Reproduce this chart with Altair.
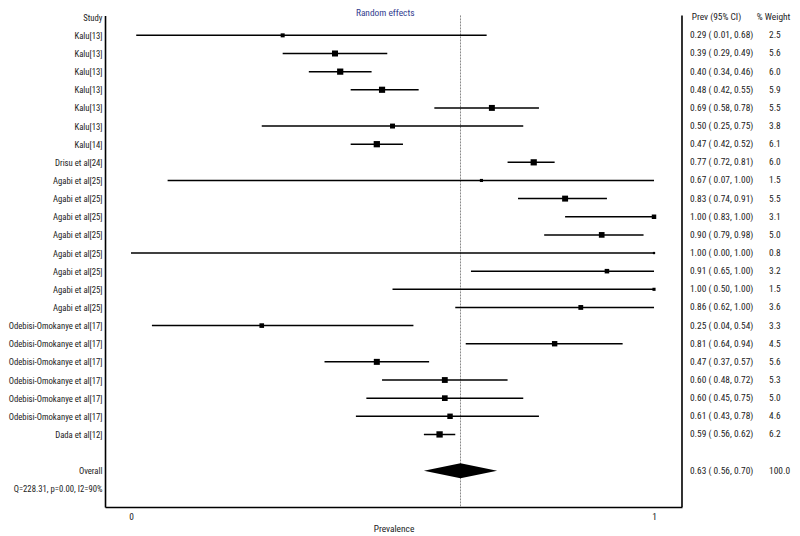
import json
import altair as alt
import pandas as pd

# ---------------- data ----------------
studies = (["Kalu[13]"] * 6 + ["Kalu[14]", "Drisu et al[24]"] + ["Agabi et al[25]"] * 8
           + ["Odebisi-Omokanye et al[17]"] * 6 + ["Dada et al[12]"])
prev = [0.29, 0.39, 0.40, 0.48, 0.69, 0.50, 0.47, 0.77, 0.67, 0.83, 1.00, 0.90,
        1.00, 0.91, 1.00, 0.86, 0.25, 0.81, 0.47, 0.60, 0.60, 0.61, 0.59]
lower = [0.01, 0.29, 0.34, 0.42, 0.58, 0.25, 0.42, 0.72, 0.07, 0.74, 0.83, 0.79,
         0.00, 0.65, 0.50, 0.62, 0.04, 0.64, 0.37, 0.48, 0.45, 0.43, 0.56]
upper = [0.68, 0.49, 0.46, 0.55, 0.78, 0.75, 0.52, 0.81, 1.00, 0.91, 1.00, 0.98,
         1.00, 1.00, 1.00, 1.00, 0.54, 0.94, 0.57, 0.72, 0.75, 0.78, 0.62]
weight = [2.5, 5.6, 6.0, 5.9, 5.5, 3.8, 6.1, 6.0, 1.5, 5.5, 3.1, 5.0,
          0.8, 3.2, 1.5, 3.6, 3.3, 4.5, 5.6, 5.3, 5.0, 4.6, 6.2]
overall_prev, overall_lower, overall_upper, overall_weight = 0.63, 0.56, 0.70, 100.0
het_text = "Q=228.31, p=0.00, I2=90%"
x_ticks = [0, 1]
headers = ["Study", "Prev (95% CI)", "% Weight"]
chart_title = "Random effects"
x_title = "Prevalence"

# ---------------- layout constants ----------------
FONT = "Roboto Condensed, Archivo Narrow, Liberation Sans, sans-serif"
TXT = "#222222"
ROW_PX = 18.14
Y_MIN, Y_MAX = -0.1, 27.0
X_MIN, X_MAX = -0.0497, 1.0535
PLOT_W = 577
PLOT_H = (Y_MAX - Y_MIN) * ROW_PX

n = len(studies)
rows = list(range(1, n + 1))
overall_row = n + 2
het_row = n + 3

label_map = [""] * (het_row + 1)
label_map[0] = headers[0]
for r, s in zip(rows, studies):
    label_map[r] = s
label_map[overall_row] = "Overall"
label_map[het_row] = het_text
axis_rows = [0] + rows + [overall_row, het_row]

df = pd.DataFrame({"row": rows, "study": studies, "prev": prev,
                   "lower": lower, "upper": upper, "weight": weight})

ci_text = [f"{p:.2f} ( {l:.2f}, {u:.2f})" for p, l, u in zip(prev, lower, upper)] \
    + [f"{overall_prev:.2f} ( {overall_lower:.2f}, {overall_upper:.2f})"]
w_text = [f"{w:.1f}" for w in weight] + [f"{overall_weight:.1f}"]
text_df = pd.DataFrame({"row": rows + [overall_row], "ci": ci_text, "w": w_text})

half = 0.41
diamond_df = pd.DataFrame({
    "x": [overall_lower, overall_prev, overall_upper],
    "y": [overall_row, overall_row - half, overall_row],
    "y2": [overall_row, overall_row + half, overall_row],
})

yscale = alt.Scale(domain=[Y_MIN, Y_MAX], reverse=True, nice=False, zero=False)
xscale = alt.Scale(domain=[X_MIN, X_MAX], nice=False, zero=False)

y_axis = alt.Axis(values=axis_rows, tickCount=100,
                  labelExpr=f"{json.dumps(label_map)}[datum.value]",
                  ticks=False, grid=False, labelPadding=3, labelFont=FONT, labelFontSize=8.7,
                  labelOverlap=False, labelBound=False,
                  labelColor=TXT, domainColor="black", domainWidth=1.6, title=None)
x_axis = alt.Axis(values=x_ticks, format="d", ticks=False, grid=False, labelPadding=6,
                  labelFont=FONT, labelFontSize=9.4, labelColor=TXT, domainColor="black",
                  domainWidth=1.6, title=x_title, titleFont=FONT, titleFontSize=9.4,
                  titleFontWeight="normal", titleColor=TXT, titlePadding=3)

base = alt.Chart(df)

ci = base.mark_rule(color="black", strokeWidth=1.5).encode(
    x=alt.X("lower:Q", scale=xscale, axis=x_axis),
    x2="upper:Q",
    y=alt.Y("row:Q", scale=yscale, axis=y_axis),
)

squares = base.mark_square(color="black", opacity=1, filled=True).encode(
    x="prev:Q",
    y="row:Q",
    size=alt.Size("weight:Q", scale=alt.Scale(domain=[0, 6.2], range=[0, 40]), legend=None),
)

ref = alt.Chart(pd.DataFrame({"v": [overall_prev]})).mark_rule(
    color="#8a8a8a", strokeWidth=1, strokeDash=[2, 1]).encode(x="v:Q")

diamond = alt.Chart(diamond_df).mark_area(color="black", orient="vertical", opacity=1).encode(
    x="x:Q", y="y:Q", y2="y2:Q")

txt_style = dict(align="left", baseline="middle", font=FONT, fontSize=9.4, color=TXT)

ci_txt = alt.Chart(text_df).mark_text(**txt_style).encode(
    x=alt.datum(1.0688), y="row:Q", text="ci:N")

w_txt = alt.Chart(text_df).mark_text(**txt_style).encode(
    x=alt.datum(1.2199), y="row:Q", text="w:N")

hdr_df = pd.DataFrame({"h": headers[1:], "hx": [1.0721, 1.1965], "row": [0, 0]})
hdr_txt = alt.Chart(hdr_df).mark_text(**txt_style).encode(
    x="hx:Q", y="row:Q", text="h:N")

title_txt = alt.Chart(pd.DataFrame({"t": [chart_title]})).mark_text(
    align="center", baseline="middle", font=FONT, fontSize=9.4, color="#33408f").encode(
    x=alt.datum(0.486), y=alt.datum(-0.25), text="t:N")

right_edge = alt.Chart(pd.DataFrame({"v": [X_MAX]})).mark_rule(
    color="black", strokeWidth=1.6).encode(x="v:Q")

chart = alt.layer(ref, ci, squares, diamond, ci_txt, w_txt, hdr_txt, title_txt, right_edge).properties(
    width=PLOT_W,
    height=PLOT_H,
    padding={"left": 97, "top": 7.4, "right": 110, "bottom": 29},
    autosize=alt.AutoSizeParams(type="none"),
    background="white",
).configure_view(stroke=None)

chart.save("out.html", embed_options={"renderer": "svg", "actions": False})
